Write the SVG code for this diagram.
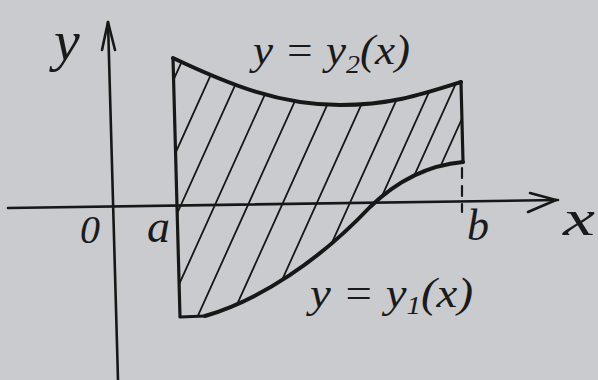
<svg xmlns="http://www.w3.org/2000/svg" width="598" height="380" viewBox="0 0 598 380">
<style>
.ink{fill:none;stroke:#171717;stroke-linecap:round;stroke-linejoin:round}
.axis{stroke-width:2.6}
.bound{stroke-width:4}
.side{stroke-width:3.2}
.hatch{stroke-width:1.8}
.lbl{font-family:"Liberation Serif","Times New Roman",serif;font-style:italic;fill:#1a1a1a}
</style>
<defs>
<clipPath id="region">
<path d="M173,58 C230,85 280,105 340,105 C390,105 420,95 461,82 L463,162 C430,165 400,178 370,207 C320,260 260,300 205,316 L180,317 Z"/>
</clipPath>
</defs>
<rect width="598" height="380" fill="#c9cbce"/>
<g id="axes">
<line class="ink axis" x1="8" y1="208" x2="558" y2="200"/>
<polyline class="ink axis" points="530,193 556,200 528,212"/>
<line class="ink axis" x1="108" y1="22" x2="118" y2="380"/>
<polyline class="ink axis" points="102,50 108,22 115,50"/>
</g>
<g id="hatching" clip-path="url(#region)">
<g class="ink hatch">
<line x1="65" y1="320" x2="187" y2="50"/>
<line x1="100" y1="320" x2="222" y2="50"/>
<line x1="129" y1="320" x2="251" y2="50"/>
<line x1="163" y1="320" x2="285" y2="50"/>
<line x1="196" y1="320" x2="318" y2="50"/>
<line x1="230" y1="320" x2="352" y2="50"/>
<line x1="264" y1="320" x2="386" y2="50"/>
<line x1="297" y1="320" x2="419" y2="50"/>
<line x1="326" y1="320" x2="448" y2="50"/>
<line x1="349" y1="320" x2="471" y2="50"/>
<line x1="371" y1="320" x2="493" y2="50"/>
</g>
</g>
<g id="region-boundary">
<path class="ink bound" d="M173,58 C230,85 280,105 340,105 C390,105 420,95 461,82"/>
<path class="ink bound" d="M205,316 C260,300 320,260 370,207 C400,178 430,165 463,162"/>
<path class="ink side" d="M173,58 L180,317 L205,316"/>
<path class="ink side" d="M461,82 L463,162"/>
<line class="ink" stroke-width="2.2" stroke-dasharray="10,8" x1="462" y1="168" x2="462" y2="212"/>
</g>
<g id="labels">
<text class="lbl" x="54" y="60" font-size="58">y</text>
<text class="lbl" x="80" y="243" font-size="40">0</text>
<text class="lbl" x="147" y="242" font-size="46">a</text>
<text class="lbl" x="467" y="240" font-size="44">b</text>
<text class="lbl" x="563" y="235" font-size="50" textLength="32" lengthAdjust="spacingAndGlyphs">x</text>
<text class="lbl" x="253" y="64" font-size="42" textLength="157" lengthAdjust="spacingAndGlyphs">y = y<tspan font-size="26" dy="9">2</tspan><tspan dy="-9">(x)</tspan></text>
<text class="lbl" x="310" y="307" font-size="42" textLength="163" lengthAdjust="spacingAndGlyphs">y = y<tspan font-size="26" dy="7">1</tspan><tspan dy="-7">(x)</tspan></text>
</g>
</svg>
